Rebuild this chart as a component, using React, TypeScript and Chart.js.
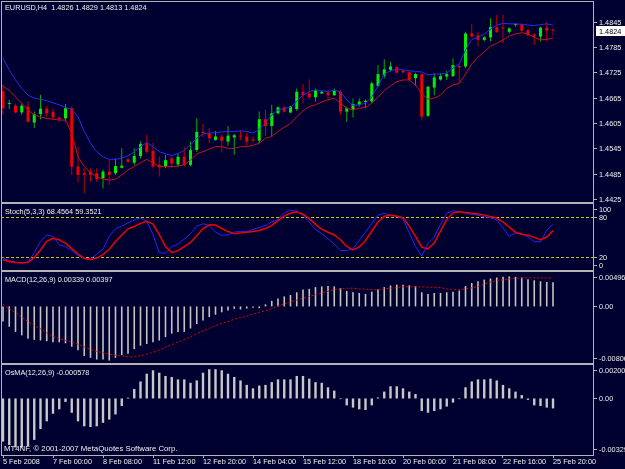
import React, { useEffect, useRef } from 'react';
import { Chart, registerables } from 'chart.js';

Chart.register(...registerables);

// ---------- data ----------
const opens = [1.4680,1.4650,1.4646,1.4630,1.4644,1.4606,1.4626,1.4639,1.4632,1.4618,
 1.4616,1.4640,1.4502,1.4486,1.4490,1.4486,1.4474,1.4490,1.4486,1.4499,
 1.4519,1.4511,1.4527,1.4557,1.4539,1.4506,1.4502,1.4521,1.4507,1.4525,
 1.4506,1.4541,1.4584,1.4581,1.4565,1.4573,1.4561,1.4571,1.4575,1.4573,
 1.4566,1.4563,1.4614,1.4598,1.4628,1.4642,1.4630,1.4638,1.4679,1.4675,
 1.4666,1.4675,1.4677,1.4671,1.4679,1.4632,1.4636,1.4648,1.4655,1.4656,
 1.4693,1.4717,1.4731,1.4737,1.4729,1.4725,1.4711,1.4721,1.4622,1.4689,
 1.4708,1.4715,1.4716,1.4740,1.4739,1.4817,1.4813,1.4802,1.4808,1.4832,
 1.4830,1.4821,1.4837,1.4838,1.4825,1.4815,1.4810,1.4831,1.4826];
const highs = [1.4695,1.4660,1.4651,1.4651,1.4656,1.4632,1.4672,1.4645,1.4640,1.4620,
 1.4650,1.4645,1.4549,1.4498,1.4498,1.4498,1.4495,1.4517,1.4521,1.4545,
 1.4521,1.4545,1.4561,1.4577,1.4558,1.4525,1.4529,1.4525,1.4533,1.4549,
 1.4561,1.4616,1.4603,1.4593,1.4586,1.4577,1.4598,1.4579,1.4588,1.4582,
 1.4573,1.4632,1.4636,1.4648,1.4645,1.4645,1.4646,1.4687,1.4697,1.4708,
 1.4687,1.4680,1.4683,1.4687,1.4683,1.4644,1.4663,1.4663,1.4661,1.4703,
 1.4742,1.4756,1.4750,1.4740,1.4731,1.4729,1.4724,1.4723,1.4693,1.4723,
 1.4723,1.4729,1.4758,1.4746,1.4821,1.4840,1.4821,1.4811,1.4853,1.4861,
 1.4861,1.4832,1.4841,1.4840,1.4827,1.4817,1.4833,1.4845,1.4829];
const lows = [1.4625,1.4638,1.4628,1.4624,1.4606,1.4593,1.4614,1.4620,1.4612,1.4608,
 1.4608,1.4482,1.4464,1.4438,1.4466,1.4466,1.4450,1.4458,1.4482,1.4497,
 1.4511,1.4505,1.4521,1.4533,1.4498,1.4478,1.4498,1.4498,1.4500,1.4502,
 1.4502,1.4537,1.4571,1.4557,1.4563,1.4535,1.4551,1.4530,1.4565,1.4551,
 1.4561,1.4557,1.4574,1.4573,1.4626,1.4630,1.4628,1.4634,1.4652,1.4661,
 1.4656,1.4674,1.4661,1.4669,1.4624,1.4608,1.4618,1.4644,1.4640,1.4653,
 1.4690,1.4711,1.4727,1.4723,1.4723,1.4705,1.4693,1.4611,1.4620,1.4671,
 1.4705,1.4707,1.4714,1.4699,1.4735,1.4808,1.4786,1.4798,1.4798,1.4819,
 1.4794,1.4817,1.4833,1.4819,1.4811,1.4790,1.4798,1.4798,1.4813];
const closes = [1.4640,1.4652,1.4630,1.4646,1.4608,1.4626,1.4639,1.4628,1.4618,1.4614,
 1.4640,1.4502,1.4482,1.4482,1.4482,1.4472,1.4490,1.4482,1.4503,1.4504,
 1.4513,1.4527,1.4555,1.4537,1.4502,1.4500,1.4517,1.4509,1.4525,1.4506,
 1.4541,1.4584,1.4581,1.4569,1.4573,1.4563,1.4575,1.4576,1.4573,1.4561,
 1.4563,1.4614,1.4598,1.4628,1.4642,1.4632,1.4644,1.4679,1.4671,1.4666,
 1.4683,1.4679,1.4671,1.4682,1.4632,1.4640,1.4650,1.4656,1.4656,1.4699,
 1.4721,1.4732,1.4739,1.4724,1.4725,1.4707,1.4721,1.4620,1.4691,1.4713,
 1.4716,1.4721,1.4742,1.4737,1.4817,1.4810,1.4802,1.4808,1.4832,1.4821,
 1.4829,1.4829,1.4838,1.4824,1.4813,1.4810,1.4831,1.4824,1.4824];

const maBlue = [1.4758,1.4731,1.4707,1.4687,1.4671,1.4664,1.4661,1.4658,1.4653,1.4648,
 1.4642,1.4637,1.4620,1.4585,1.4557,1.4537,1.4525,1.4519,1.4519,1.4522,
 1.4527,1.4537,1.4549,1.4559,1.4549,1.4537,1.4532,1.4528,1.4533,1.4540,
 1.4553,1.4569,1.4579,1.4581,1.4582,1.4584,1.4585,1.4585,1.4586,1.4585,
 1.4581,1.4590,1.4606,1.4624,1.4636,1.4640,1.4642,1.4656,1.4671,1.4679,
 1.4683,1.4682,1.4679,1.4683,1.4679,1.4660,1.4647,1.4648,1.4652,1.4667,
 1.4693,1.4721,1.4729,1.4732,1.4731,1.4729,1.4727,1.4726,1.4719,1.4721,
 1.4721,1.4723,1.4735,1.4745,1.4778,1.4803,1.4808,1.4816,1.4827,1.4837,
 1.4841,1.4840,1.4840,1.4839,1.4837,1.4836,1.4838,1.4840,1.4837];
const maRed = [1.4693,1.4682,1.4667,1.4652,1.4636,1.4624,1.4619,1.4616,1.4614,1.4612,
 1.4612,1.4581,1.4525,1.4502,1.4487,1.4478,1.4472,1.4470,1.4472,1.4482,
 1.4494,1.4502,1.4511,1.4519,1.4511,1.4502,1.4502,1.4502,1.4503,1.4506,
 1.4517,1.4532,1.4537,1.4543,1.4549,1.4549,1.4545,1.4545,1.4549,1.4549,
 1.4552,1.4557,1.4569,1.4573,1.4585,1.4595,1.4604,1.4620,1.4634,1.4644,
 1.4648,1.4655,1.4660,1.4664,1.4652,1.4640,1.4636,1.4640,1.4642,1.4652,
 1.4666,1.4682,1.4693,1.4703,1.4707,1.4707,1.4695,1.4675,1.4661,1.4664,
 1.4671,1.4687,1.4695,1.4699,1.4721,1.4745,1.4761,1.4774,1.4787,1.4794,
 1.4802,1.4811,1.4816,1.4819,1.4816,1.4808,1.4802,1.4803,1.4806];

const stochMain = [19.5,15,13,11.5,13.5,27,43.5,53,51,38.5,
 36,30,22.5,18.5,18,25,32,51,62,66,
 71,75,78,73,53.5,27,26,36,39.5,47,
 55,66,69.5,67,57,52.5,53,57.5,58,58,
 61,64,67,72,76,86,89.5,88,82,72,
 61,55,47.5,39.5,30,30,33,45,57,70,
 82,85,82,80,77,56,36,22,40,50,
 68.5,85,88.5,87,85,83.5,82,80,78.5,75,
 63.5,51,56,55,50,43,43,60,68.4564];
const stochSignal = [16.5,14,12.5,12,12.5,20,31,43.5,48,46,
 41,33,25,18.5,17,19,24,32,43.5,53,
 62,65.5,70,73,69,53.5,36,27,30,36,
 42,52,62,68,67.5,62.5,58,55,56,57,
 58,59.5,62.5,67,74,81,85,87,83.5,77,
 68.5,61.5,57,53,46,36,31,35.5,45,58.5,
 72,80.5,82,81,78.5,66,51,35,32.5,41,
 58.5,76,85.5,87,86,85,84,82.5,80,78,
 72,64.5,57,54,52.5,49.5,46,50,59.3521];
const stochLevels = [20, 80];

const macdHist = [-0.00212,-0.00285,-0.00357,-0.00405,-0.00453,-0.00468,-0.00477,-0.00487,-0.00502,-0.00502,
 -0.00516,-0.00564,-0.00612,-0.00694,-0.00719,-0.00743,-0.00743,-0.00757,-0.00719,-0.00680,
 -0.00661,-0.00598,-0.00550,-0.00526,-0.00502,-0.00477,-0.00429,-0.00381,-0.00357,-0.00357,
 -0.00309,-0.00246,-0.00198,-0.00149,-0.00116,-0.00082,-0.00058,-0.00034,-0.00043,-0.00029,
 -0.00019,-0.00024,0.00029,0.00077,0.00111,0.00140,0.00159,0.00198,0.00236,0.00246,
 0.00270,0.00280,0.00285,0.00280,0.00256,0.00217,0.00198,0.00188,0.00174,0.00207,
 0.00236,0.00270,0.00294,0.00304,0.00304,0.00294,0.00285,0.00198,0.00174,0.00188,
 0.00188,0.00198,0.00207,0.00222,0.00285,0.00328,0.00352,0.00376,0.00391,0.00405,
 0.00415,0.00420,0.00415,0.00405,0.00381,0.00366,0.00352,0.00342,0.00339];
const macdSignal = [0.00034,-0.00034,-0.00091,-0.00149,-0.00212,-0.00269,-0.00313,-0.00370,-0.00418,-0.00452,
 -0.00476,-0.00500,-0.00529,-0.00567,-0.00601,-0.00630,-0.00649,-0.00668,-0.00683,-0.00692,
 -0.00707,-0.00707,-0.00692,-0.00668,-0.00644,-0.00611,-0.00572,-0.00534,-0.00500,-0.00462,
 -0.00428,-0.00380,-0.00341,-0.00308,-0.00269,-0.00236,-0.00212,-0.00178,-0.00159,-0.00135,
 -0.00106,-0.00082,-0.00058,-0.00029,0.00005,0.00034,0.00062,0.00087,0.00115,0.00139,
 0.00163,0.00192,0.00212,0.00236,0.00245,0.00255,0.00255,0.00245,0.00240,0.00236,
 0.00236,0.00245,0.00255,0.00264,0.00274,0.00274,0.00274,0.00274,0.00269,0.00269,
 0.00264,0.00245,0.00236,0.00236,0.00245,0.00260,0.00279,0.00313,0.00341,0.00361,
 0.00375,0.00385,0.00394,0.00399,0.00399,0.00399,0.00399,0.00399,0.00397];

const osmaHist = [-0.00251,-0.00271,-0.00285,-0.00285,-0.00277,-0.00241,-0.00178,-0.00133,-0.00089,-0.00063,
 -0.00020,-0.00083,-0.00133,-0.00162,-0.00166,-0.00162,-0.00142,-0.00123,-0.00093,-0.00044,
 0.00005,0.00055,0.00099,0.00144,0.00164,0.00150,0.00131,0.00125,0.00111,0.00111,
 0.00091,0.00105,0.00150,0.00170,0.00170,0.00164,0.00144,0.00125,0.00105,0.00079,
 0.00059,0.00075,0.00079,0.00095,0.00111,0.00111,0.00111,0.00131,0.00131,0.00115,
 0.00095,0.00091,0.00065,0.00046,-0.00004,-0.00040,-0.00053,-0.00063,-0.00067,-0.00040,
 0.00006,0.00040,0.00071,0.00071,0.00059,0.00040,0.00026,-0.00073,-0.00083,-0.00073,
 -0.00063,-0.00047,-0.00024,-0.00004,0.00065,0.00099,0.00111,0.00111,0.00115,0.00105,
 0.00079,0.00059,0.00040,0.00020,-0.00008,-0.00040,-0.00044,-0.00053,-0.000578];

const xTickBars = [0, 8, 16, 24, 32, 40, 48, 56, 64, 72, 80, 88];
const xTickLabels = ['5 Feb 2008', '7 Feb 00:00', '8 Feb 08:00', '11 Feb 12:00', '12 Feb 20:00', '14 Feb 04:00',
  '15 Feb 12:00', '18 Feb 16:00', '20 Feb 00:00', '21 Feb 08:00', '22 Feb 16:00', '25 Feb 20:00'];

const priceTicks = [1.4845, 1.4785, 1.4725, 1.4665, 1.4605, 1.4545, 1.4485, 1.4425];
const priceTickLabels = ['1.4845', '1.4785', '1.4725', '1.4665', '1.4605', '1.4545', '1.4485', '1.4425'];
const stochTicks = [100, 80, 20, 0];
const stochTickLabels = ['100', '80', '20', '0'];
const macdTicks = [0.00496, 0, -0.00806];
const macdTickLabels = ['0.00496', '0.00', '-0.00806'];
const osmaTicks = [0.002006, 0, -0.00329];
const osmaTickLabels = ['0.002006', '0.00', '-0.00329'];

const mainTitle = 'EURUSD,H4  1.4826 1.4829 1.4813 1.4824';
const stochTitle = 'Stoch(5,3,3) 68.4564 59.3521';
const macdTitle = 'MACD(12,26,9) 0.00339 0.00397';
const osmaTitle = 'OsMA(12,26,9) -0.000578';
const copyright = 'MT4NF, \u00a9 2001-2007 MetaQuotes Software Corp.';
const currentPrice = 1.4824;

// ---------- styles ----------
const BG = '#000030';
const FRAME = '#b4b4b4';
const TEXT = '#f0f0f0';
const FONT = '7.3px "Liberation Sans", Arial, sans-serif';
const FONT_COPY = '7.8px "Liberation Sans", Arial, sans-serif';
const BULL_BODY = '#00f000';
const BEAR_BODY = '#f00000';
const BULL_WICK = '#00b000';
const BEAR_WICK = '#c00000';

const idx = opens.map((_, i) => i);
const isBull = (i: number) => closes[i] >= opens[i];

const overlay = {
  id: 'mt4overlay',
  beforeDraw(chart: any) {
    const ctx = chart.ctx;
    ctx.save();
    ctx.fillStyle = BG;
    ctx.fillRect(0, 0, chart.width, chart.height);
    ctx.restore();
  },
  beforeDatasetsDraw(chart: any) {
    const ctx = chart.ctx;
    const s = chart.scales.yStoch;
    const { left, right } = chart.chartArea;
    ctx.save();
    ctx.strokeStyle = '#c8c800';
    ctx.lineWidth = 1;
    ctx.setLineDash([3, 2]);
    for (const v of stochLevels) {
      const y = Math.round(s.getPixelForValue(v)) + 0.5;
      ctx.beginPath();
      ctx.moveTo(left, y);
      ctx.lineTo(right, y);
      ctx.stroke();
    }
    ctx.restore();
  },
  afterDraw(chart: any) {
    const ctx = chart.ctx;
    const { left, right } = chart.chartArea;
    const panes = ['yMain', 'yStoch', 'yMacd', 'yOsma'].map((id) => chart.scales[id]);
    ctx.save();
    // frames
    ctx.fillStyle = FRAME;
    const top = Math.round(panes[0].top);
    const bottom = Math.round(panes[3].bottom);
    ctx.fillRect(left, top - 1, right - left, 1);
    for (let k = 0; k < panes.length - 1; k++) {
      ctx.fillRect(left, Math.round(panes[k].bottom) - 1, right - left, 2);
    }
    ctx.fillRect(left, bottom, right - left, 1);
    ctx.fillRect(left, top - 1, 1, bottom - top + 2);
    ctx.fillRect(right - 1, top - 1, 1, bottom - top + 2);

    // y labels
    ctx.font = FONT;
    ctx.textBaseline = 'middle';
    ctx.textAlign = 'left';
    const defs = [
      { s: panes[0], v: priceTicks, t: priceTickLabels, clamp: false },
      { s: panes[1], v: stochTicks, t: stochTickLabels, clamp: true },
      { s: panes[2], v: macdTicks, t: macdTickLabels, clamp: true },
      { s: panes[3], v: osmaTicks, t: osmaTickLabels, clamp: true },
    ];
    for (const d of defs) {
      d.v.forEach((v, k) => {
        let y = d.s.getPixelForValue(v);
        if (d.clamp) y = Math.min(Math.max(y, d.s.top + 6.3), d.s.bottom - 6);
        ctx.fillStyle = FRAME;
        ctx.fillRect(right, Math.round(y), 3, 1);
        ctx.fillStyle = TEXT;
        ctx.fillText(d.t[k], right + 5, Math.round(y) + 0.5);
      });
    }
    // current price box
    const py = Math.round(panes[0].getPixelForValue(currentPrice));
    ctx.fillStyle = '#ffffff';
    ctx.fillRect(right + 2, py - 5, 29, 10);
    ctx.fillStyle = '#000000';
    ctx.fillText(currentPrice.toFixed(4), right + 5, py + 0.5);

    // pane titles
    ctx.fillStyle = TEXT;
    ctx.fillText(mainTitle, 5, panes[0].top + 6);
    ctx.fillText(stochTitle, 5, panes[1].top + 8.7);
    ctx.fillText(macdTitle, 5, panes[2].top + 9);
    ctx.fillText(osmaTitle, 5, panes[3].top + 9.3);
    ctx.font = FONT_COPY;
    ctx.fillText(copyright, 4, panes[3].bottom - 5.7);
    ctx.restore();
  },
};

function yPane(weight: number, order: number, min: number, max: number) {
  return {
    type: 'linear',
    position: 'right',
    stack: 'panes',
    stackWeight: weight,
    weight: order,
    min,
    max,
    offset: false,
    display: true,
    grid: { display: false, drawTicks: false },
    border: { display: false },
    ticks: { display: false },
    afterFit: (s: any) => {
      s.width = 31;
      s.paddingTop = 0;
      s.paddingBottom = 0;
    },
  };
}

export default function App() {
  const ref = useRef<HTMLCanvasElement | null>(null);
  useEffect(() => {
    const canvas = ref.current;
    if (!canvas) return;
    Chart.defaults.font.family = '"Liberation Sans", Arial, sans-serif';
    const barCommon = { grouped: false, inflateAmount: 0, borderWidth: 0, xAxisID: 'x' };
    const lineCommon = { pointRadius: 0, pointHoverRadius: 0, tension: 0, xAxisID: 'x', fill: false };
    const chart = new Chart(canvas, {
      type: 'bar',
      data: {
        datasets: [
          {
            ...barCommon,
            type: 'bar',
            label: 'wicks',
            yAxisID: 'yMain',
            data: idx.map((i) => ({ x: i, y: [lows[i], highs[i]] })),
            backgroundColor: idx.map((i) => (isBull(i) ? BULL_WICK : BEAR_WICK)),
            barThickness: 1,
            order: 5,
          },
          {
            ...barCommon,
            type: 'bar',
            label: 'bodies',
            yAxisID: 'yMain',
            data: idx.map((i) => ({ x: i, y: [opens[i], closes[i]] })),
            backgroundColor: idx.map((i) => (isBull(i) ? BULL_BODY : BEAR_BODY)),
            barThickness: 3,
            minBarLength: 1,
            order: 4,
          },
          {
            ...lineCommon,
            type: 'line',
            label: 'MA blue',
            yAxisID: 'yMain',
            data: idx.map((i) => ({ x: i, y: maBlue[i] })),
            borderColor: '#2a2ae8',
            borderWidth: 1,
            order: 1,
          },
          {
            ...lineCommon,
            type: 'line',
            label: 'MA red',
            yAxisID: 'yMain',
            data: idx.map((i) => ({ x: i, y: maRed[i] })),
            borderColor: '#c41414',
            borderWidth: 1,
            order: 1,
          },
          {
            ...lineCommon,
            type: 'line',
            label: 'Stoch main',
            yAxisID: 'yStoch',
            data: idx.map((i) => ({ x: i, y: stochMain[i] })),
            borderColor: '#2424ff',
            borderWidth: 1,
            order: 1,
          },
          {
            ...lineCommon,
            type: 'line',
            label: 'Stoch signal',
            yAxisID: 'yStoch',
            data: idx.map((i) => ({ x: i, y: stochSignal[i] })),
            borderColor: '#f00000',
            borderWidth: 1.5,
            order: 0,
          },
          {
            ...barCommon,
            type: 'bar',
            label: 'MACD',
            yAxisID: 'yMacd',
            data: idx.map((i) => ({ x: i, y: macdHist[i] })),
            backgroundColor: '#c4c4bc',
            barThickness: 1.6,
            order: 3,
          },
          {
            ...lineCommon,
            type: 'line',
            label: 'MACD signal',
            yAxisID: 'yMacd',
            data: idx.map((i) => ({ x: i, y: macdSignal[i] })),
            borderColor: '#e00000',
            borderWidth: 1,
            borderDash: [2, 2],
            order: 0,
          },
          {
            ...barCommon,
            type: 'bar',
            label: 'OsMA',
            yAxisID: 'yOsma',
            data: idx.map((i) => ({ x: i, y: osmaHist[i] })),
            backgroundColor: '#c8c8c8',
            barThickness: 2.4,
            order: 3,
          },
        ] as any,
      },
      options: {
        responsive: false,
        animation: false,
        devicePixelRatio: 1,
        events: [],
        layout: { padding: { top: 2, left: 1, right: 0, bottom: 0 } },
        plugins: { legend: { display: false }, tooltip: { enabled: false }, title: { display: false } },
        scales: {
          x: {
            type: 'linear',
            position: 'bottom',
            offset: false,
            min: -0.32,
            max: 94.56,
            grid: { display: true, offset: false, drawOnChartArea: false, drawTicks: true, tickLength: 3, color: FRAME },
            border: { display: false },
            afterBuildTicks: (s: any) => {
              s.ticks = xTickBars.map((v) => ({ value: v }));
            },
            afterFit: (s: any) => {
              s.height = 14;
              s.paddingLeft = 0;
              s.paddingRight = 0;
            },
            ticks: {
              autoSkip: false,
              maxRotation: 0,
              minRotation: 0,
              align: 'start',
              padding: 0,
              color: TEXT,
              font: { size: 7.3, family: '"Liberation Sans", Arial, sans-serif' },
              callback: (_v: any, i: number) => xTickLabels[i] ?? '',
            },
          },
          yMain: yPane(201, 1, 1.44155, 1.48917),
          yStoch: yPane(68, 2, 0, 100),
          yMacd: yPane(93, 3, -0.00806, 0.00496),
          yOsma: yPane(91, 4, -0.00329, 0.002006),
        } as any,
      },
      plugins: [overlay],
    } as any);
    return () => chart.destroy();
  }, []);
  return (
    <div style={{ position: 'fixed', left: 0, top: 0, width: 625, height: 469, background: BG }}>
      <canvas ref={ref} width={625} height={469} style={{ display: 'block', width: 625, height: 469 }} />
    </div>
  );
}
